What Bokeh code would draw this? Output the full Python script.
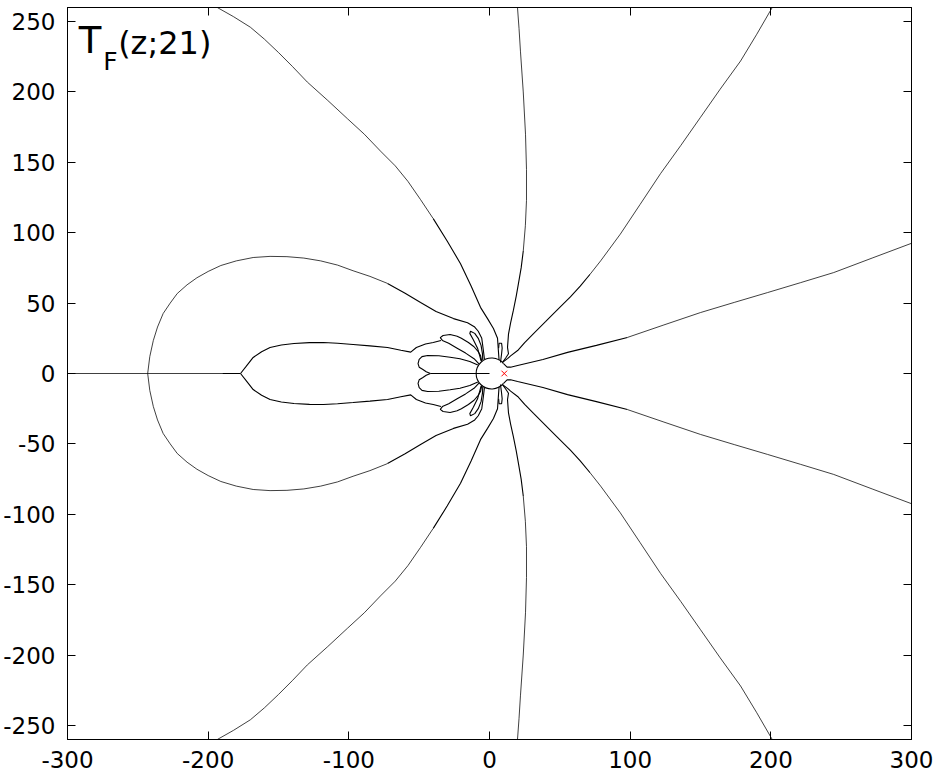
import math
from bokeh.plotting import figure
from bokeh.models import Range1d, FixedTicker, LinearAxis, Label
from bokeh.embed import file_html
from bokeh.resources import INLINE

# ---------------- data (upper half; lower half is the mirror image) -------------
X_TICKS = [-300, -200, -100, 0, 100, 200, 300]
Y_TICKS = [-250, -200, -150, -100, -50, 0, 50, 100, 150, 200, 250]

# real axis segment
AXIS_OUT_X = [-300, -190]
AXIS_IN_X = [-190, -177]
CENTER_LINE_X = [-42, 0]

# big loop (outer, faint) and its arm into the centre
LOOP_X = [-243, -241.5, -239, -236, -232, -227, -222, -215, -208, -200, -191, -180,
          -168, -156, -144, -132, -120, -108, -97, -85, -72.5]
LOOP_Y = [0, 12, 23.4, 33, 42.6, 50, 56.8, 63, 68, 72.5, 76.7, 80,
          82.4, 83.2, 83, 82, 80, 77, 73, 69, 64]
ARM_X = [-72.5, -60, -49, -38, -25.6, -15.6, -10.5, -8, -5.5, -4.3, -3.6]
ARM_Y = [64, 57, 50.4, 44, 39, 36, 33, 30, 25, 16, 10]

# curve A (top edge at x ~ -193)
A_OUT_X = [-193.5, -182, -170, -160, -150, -140, -129.5, -115, -101, -89, -77.5, -67,
           -58, -49, -40]
A_OUT_Y = [260, 253.5, 246, 237.5, 228, 218, 207, 194, 181, 170, 158, 147.5,
           136.5, 123.5, 110]
A_IN_X = [-40, -30, -20.6, -13, -6.4, -1.4, 2.8, 5.7, 6.2, 6.8]
A_IN_Y = [110, 94, 78, 62, 47, 39, 32, 25, 17.8, 9.5]

# curve B (top edge at x ~ 20)
B_OUT_X = [19.9, 21, 22, 24, 25.6, 26.3, 26.3, 25.5, 24]
B_OUT_Y = [260, 245, 229, 200, 170, 145, 123, 105, 87]
B_IN_X = [24, 22.5, 20.6, 19, 17, 15, 13.5, 12.8, 13.5, 11.5, 9.3]
B_IN_Y = [87, 75, 64, 55, 45, 36, 28, 18.5, 14, 11, 8]

# curve C (top edge at x ~ 200)
C_OUT_X = [201, 190, 178.5, 164, 150, 136, 121.6, 107, 93, 79, 71.5]
C_OUT_Y = [260, 241, 222, 202, 182, 162, 142, 120, 99, 80, 70.5]
C_IN_X = [71.5, 64.5, 57.5, 48, 40, 31.3, 25, 20, 15, 12.8, 9.3]
C_IN_Y = [70.5, 62, 54.5, 45, 37, 28.4, 22, 16.3, 12.5, 10.6, 8]

# curve D (right edge at y ~ 92)
D_OUT_X = [300, 272, 244.7, 221, 197.7, 174, 150, 124, 98]
D_OUT_Y = [92.5, 82, 71.7, 64.5, 57.5, 50.5, 43.3, 34.5, 25.6]
D_IN_X = [98, 76, 55.5, 38, 20, 15, 12.5, 10]
D_IN_Y = [25.6, 20, 15, 10, 5.7, 4.5, 4.5, 7]

# tongue
TONGUE_X = [-177, -173, -168, -162, -156, -148, -139, -128, -118, -108, -97, -85,
            -72.5, -63, -56, -52, -45.5, -40, -34.5]
TONGUE_Y = [0, 5, 11.4, 15.5, 18.5, 20.2, 21.3, 21.9, 22, 21.5, 20.6, 19.6,
            18.5, 16.5, 15.2, 18.5, 21, 22, 23.5]

# petals near the centre
P0_X = [-8.3, -14, -21, -28, -36, -44, -48, -50, -50.8, -50, -47.6, -45, -42]
P0_Y = [6, 8.5, 10.5, 11.6, 12.6, 12.8, 12, 10, 7, 4.5, 3, 1.3, 0]
P1_X = [-7.5, -11, -17, -23, -29, -33.5, -35, -33, -28, -23, -20, -15, -11, -8, -6.4, -5.5]
P1_Y = [6.8, 10.5, 14.5, 18, 21.5, 23.5, 25.5, 27, 27.7, 26.5, 25, 22, 19, 15.5, 12.8, 8.6]
P2_X = [-4.8, -5, -6, -8, -10.5, -13.5, -14, -11.5, -8.5, -6.8, -6]
P2_Y = [9.5, 14, 20, 25, 28.5, 30, 28.5, 24, 18, 12, 9]
P3_X = [7.8, 8.6, 9, 8.6, 6.8, 6.5]
P3_Y = [7.8, 14, 18, 21.5, 21.5, 18]

# small circle around the origin, open on the right side
CIRCLE_X = [1.5]
CIRCLE_Y = [0]
CIRCLE_R = 11
MARK_X = [10.5]
MARK_Y = [0]


def mirror(vals):
    return [-v for v in vals]


p = figure(width=936, height=777,
           x_range=Range1d(-300, 300), y_range=Range1d(-260, 260),
           output_backend="svg", toolbar_location=None,
           min_border_left=67, min_border_right=25, min_border_top=7, min_border_bottom=38,
           background_fill_color="white", border_fill_color="white")
p.grid.visible = False
p.outline_line_color = "black"
p.outline_line_width = 1

for ax in (p.xaxis[0], p.yaxis[0]):
    ax.major_tick_in = 8
    ax.major_tick_out = 0
    ax.minor_tick_line_color = None
    ax.axis_line_color = "black"
    ax.major_tick_line_color = "black"
    ax.major_label_text_font = "DejaVu Sans"
    ax.major_label_text_font_size = "23px"
    ax.major_label_text_color = "black"
p.xaxis[0].ticker = FixedTicker(ticks=X_TICKS)
p.yaxis[0].ticker = FixedTicker(ticks=Y_TICKS)
p.xaxis[0].major_label_overrides = {t: str(t) for t in X_TICKS}
p.yaxis[0].major_label_overrides = {t: str(t) for t in Y_TICKS}
p.xaxis[0].major_label_standoff = 11
p.yaxis[0].major_label_standoff = 12

top_ax = LinearAxis(ticker=FixedTicker(ticks=X_TICKS))
right_ax = LinearAxis(ticker=FixedTicker(ticks=Y_TICKS))
for ax in (top_ax, right_ax):
    ax.major_tick_in = 8
    ax.major_tick_out = 0
    ax.minor_tick_line_color = None
    ax.major_label_text_font_size = "1px"
    ax.major_label_text_color = None
    ax.major_label_standoff = 0
    ax.axis_line_color = "black"
p.add_layout(top_ax, "above")
p.add_layout(right_ax, "right")

THIN = 0.75
THICK = 1.1
K = "black"

p.line(AXIS_OUT_X, [0, 0], line_color=K, line_width=THIN)
p.line(AXIS_IN_X, [0, 0], line_color=K, line_width=THICK)
p.line(CENTER_LINE_X, [0, 0], line_color=K, line_width=THICK)

outer = [(LOOP_X, LOOP_Y), (A_OUT_X, A_OUT_Y), (B_OUT_X, B_OUT_Y),
         (C_OUT_X, C_OUT_Y), (D_OUT_X, D_OUT_Y)]
inner = [(ARM_X, ARM_Y), (A_IN_X, A_IN_Y), (B_IN_X, B_IN_Y), (C_IN_X, C_IN_Y),
         (D_IN_X, D_IN_Y), (TONGUE_X, TONGUE_Y), (P0_X, P0_Y), (P1_X, P1_Y),
         (P2_X, P2_Y), (P3_X, P3_Y)]
for xs, ys in outer:
    p.line(xs, ys, line_color=K, line_width=THIN)
    p.line(xs, mirror(ys), line_color=K, line_width=THIN)
for xs, ys in inner:
    p.line(xs, ys, line_color=K, line_width=THICK)
    p.line(xs, mirror(ys), line_color=K, line_width=THICK)

p.arc(x=CIRCLE_X, y=CIRCLE_Y, radius=CIRCLE_R, start_angle=math.radians(40),
      end_angle=math.radians(320), line_color=K, line_width=THICK)
p.scatter(MARK_X, MARK_Y, marker="x", size=8, line_color="red", line_width=1)

p.add_layout(Label(x=-292, y=236.5, text="T", text_font="DejaVu Sans",
                   text_font_size="37px", text_baseline="alphabetic", text_color="black"))
p.add_layout(Label(x=-274.5, y=221.5, text="F", text_font="DejaVu Sans",
                   text_font_size="25px", text_baseline="alphabetic", text_color="black"))
p.add_layout(Label(x=-264, y=235, text="(z;21)", text_font="DejaVu Sans",
                   text_font_size="32px", text_baseline="alphabetic", text_color="black"))

open("out.html", "w").write(file_html(p, INLINE))
